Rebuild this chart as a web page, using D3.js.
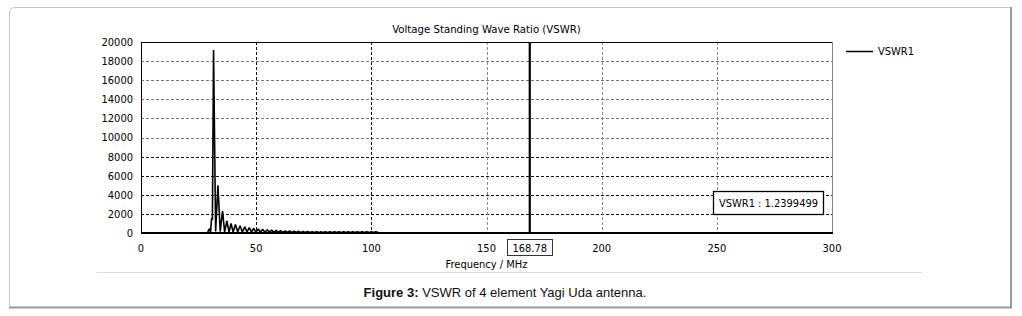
<!DOCTYPE html>
<html>
<head>
<meta charset="utf-8">
<script src="https://cdn.jsdelivr.net/npm/d3@7"></script>
<style>
  body { margin: 0; background: #fff; }
  svg text { font-family: "DejaVu Sans Condensed", "DejaVu Sans", sans-serif; }
</style>
</head>
<body>
<div id="chart"></div>
<script>
    // frequency (MHz) and VSWR
    let freq = [0, 28.8, 29.7, 30.2, 30.65, 31.0, 31.5, 32.4, 33.4, 34.4, 35.4, 36.3, 37.3, 38.2, 39.1, 40.0,
        41.0, 42.0, 43.0, 44.0, 45.1, 46.0, 47.0, 48.0, 48.9, 49.9, 50.9, 51.8, 52.8, 53.8, 54.8,
        55.7, 56.7, 57.7, 58.7, 59.6, 60.6, 61.6, 62.6, 63.5, 64.5, 65.5, 66.5, 67.4, 68.4, 69.4,
        70.4, 71.3, 72.3, 73.3, 74.3, 75.2, 76.2, 77.2, 78.2, 79.0, 80, 81, 82, 83, 84, 85, 86, 87,
        88, 89, 90, 91, 92, 93, 94, 95, 96, 97, 98, 99, 100, 101, 102, 103, 104, 168.78, 300];
    let vswr = [1.2, 1.5, 450, 120, 1550, 1400, 19150, 150, 5000, 130, 2330, 120, 1260, 110, 1000, 110,
        900, 100, 770, 100, 660, 95, 560, 90, 490, 85, 430, 80, 380, 75, 340,
        72, 300, 70, 270, 68, 245, 66, 225, 64, 205, 62, 190, 60, 175, 58,
        160, 56, 150, 55, 140, 54, 130, 52, 120, 60, 130, 40, 125, 40, 130, 40, 125, 40,
        130, 40, 125, 40, 130, 40, 125, 40, 130, 40, 125, 40, 130, 40, 125, 40, 1.3, 1.2399499, 1.2];

    let xTicks = [0, 50, 100, 150, 200, 250, 300];
    let yTicks = [0, 2000, 4000, 6000, 8000, 10000, 12000, 14000, 16000, 18000, 20000];
    let cursorFreq = 168.78;
    let cursorValue = 1.2399499;
    let seriesName = "VSWR1";

    let margin = {left: 141, top: 42},
        width = 691,
        height = 191;

    let svg = d3.select("#chart")
        .append("svg")
        .attr("width", 1022)
        .attr("height", 316);

    // outer frame of the figure
    svg.append("path")
        .attr("d", "M9.5,308 L9.5,13 Q9.5,7.5 15,7.5 L1011,7.5")
        .attr("fill", "none")
        .attr("stroke", "#c8c8c8");
    svg.append("path")
        .attr("d", "M1011,7 L1011,307.5 L9,307.5")
        .attr("fill", "none")
        .attr("stroke", "#9a9a9a")
        .attr("stroke-width", 2);

    // separator between chart and caption
    svg.append("line")
        .attr("x1", 97).attr("x2", 922)
        .attr("y1", 272.5).attr("y2", 272.5)
        .attr("stroke", "#dcdcdc");

    let g = svg.append("g")
        .attr("transform", "translate(" + margin.left + "," + margin.top + ")");

    let x = d3.scaleLinear()
        .domain([0, 300])
        .range([0, width]);

    let y = d3.scaleLinear()
        .domain([0, 20000])
        .range([height, 0]);

    // grid
    g.selectAll(".hgrid")
        .data(yTicks.filter(d => d > 0 && d < 20000))
        .enter()
        .append("line")
        .attr("x1", 0).attr("x2", width)
        .attr("y1", d => Math.round(y(d)) + 0.5)
        .attr("y2", d => Math.round(y(d)) + 0.5)
        .attr("stroke", d => d <= 8000 ? "#111" : "#777")
        .attr("stroke-dasharray", "3,2");

    g.selectAll(".vgrid")
        .data(xTicks.filter(d => d > 0 && d < 300))
        .enter()
        .append("line")
        .attr("y1", 0).attr("y2", height)
        .attr("x1", d => Math.round(x(d)) + 0.5)
        .attr("x2", d => Math.round(x(d)) + 0.5)
        .attr("stroke", d => d <= 100 ? "#111" : "#888")
        .attr("stroke-dasharray", "3,2");

    // plot border
    g.append("line").attr("x1", 0).attr("x2", width).attr("y1", 0.5).attr("y2", 0.5).attr("stroke", "#000");
    g.append("line").attr("x1", 0.5).attr("x2", 0.5).attr("y1", 0).attr("y2", height).attr("stroke", "#000");
    g.append("line").attr("x1", width + 0.5).attr("x2", width + 0.5).attr("y1", 0).attr("y2", height).attr("stroke", "#888");

    // series
    let line = d3.line()
        .x((d, i) => x(freq[i]))
        .y(d => y(d));

    g.append("path")
        .datum(vswr)
        .attr("d", line)
        .attr("fill", "none")
        .attr("stroke", "#000")
        .attr("stroke-width", 1.6)
        .attr("stroke-linejoin", "bevel");

    // bottom axis line
    g.append("line")
        .attr("x1", 0).attr("x2", width + 1)
        .attr("y1", height).attr("y2", height)
        .attr("stroke", "#000")
        .attr("stroke-width", 2);

    // cursor
    g.append("line")
        .attr("x1", x(cursorFreq)).attr("x2", x(cursorFreq))
        .attr("y1", 0).attr("y2", height)
        .attr("stroke", "#000")
        .attr("stroke-width", 2.2);

    // axes labels
    g.selectAll(".ylab")
        .data(yTicks)
        .enter()
        .append("text")
        .attr("x", -8)
        .attr("y", d => y(d))
        .attr("dy", "0.36em")
        .attr("text-anchor", "end")
        .attr("font-size", "11px")
        .attr("fill", "#000")
        .text(d => d);

    g.selectAll(".xlab")
        .data(xTicks)
        .enter()
        .append("text")
        .attr("x", d => x(d))
        .attr("y", height + 19)
        .attr("text-anchor", "middle")
        .attr("font-size", "11px")
        .attr("fill", "#000")
        .text(d => d);

    // cursor label box on the x axis
    let cx = x(cursorFreq);
    g.append("rect")
        .attr("x", Math.round(cx) - 22.5).attr("y", height + 6.5)
        .attr("width", 45).attr("height", 16)
        .attr("fill", "#fff")
        .attr("stroke", "#333");
    g.append("text")
        .attr("x", cx)
        .attr("y", height + 19)
        .attr("text-anchor", "middle")
        .attr("font-size", "11px")
        .attr("fill", "#000")
        .text(cursorFreq.toFixed(2));

    // value box
    g.append("rect")
        .attr("x", 572.5).attr("y", 149.5)
        .attr("width", 110).attr("height", 23)
        .attr("fill", "#fff")
        .attr("stroke", "#000")
        .attr("stroke-width", 1.3);
    g.append("text")
        .attr("x", 627.5)
        .attr("y", 165)
        .attr("text-anchor", "middle")
        .attr("font-size", "11px")
        .attr("fill", "#000")
        .text(seriesName + " : " + cursorValue);

    g.append("text")
        .attr("x", width / 2)
        .attr("y", height + 35)
        .attr("text-anchor", "middle")
        .attr("font-size", "11px")
        .attr("fill", "#000")
        .text("Frequency / MHz");

    svg.append("text")
        .attr("x", margin.left + width / 2)
        .attr("y", 33)
        .attr("text-anchor", "middle")
        .attr("font-size", "11.3px")
        .attr("fill", "#000")
        .text("Voltage Standing Wave Ratio (VSWR)");

    // legend
    svg.append("line")
        .attr("x1", 846).attr("x2", 873)
        .attr("y1", 51.5).attr("y2", 51.5)
        .attr("stroke", "#000")
        .attr("stroke-width", 1.5);
    svg.append("text")
        .attr("x", 878)
        .attr("y", 55)
        .attr("font-size", "11px")
        .attr("fill", "#000")
        .text(seriesName);

    // caption
    let cap = svg.append("text")
        .attr("x", 505)
        .attr("y", 297)
        .attr("text-anchor", "middle")
        .attr("font-size", "13px")
        .style("font-family", "'Liberation Sans', Arial, sans-serif")
        .attr("fill", "#111");
    cap.append("tspan").attr("font-weight", "bold").text("Figure 3:");
    cap.append("tspan").text(" VSWR of 4 element Yagi Uda antenna.");
</script>
</body>
</html>
